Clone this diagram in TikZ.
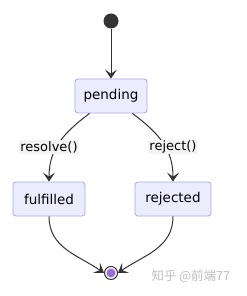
\documentclass[tikz,border=0pt]{standalone}
\usepackage{fontspec}
\setmainfont{DejaVu Sans}
\newfontfamily\cjk{Noto Sans CJK SC}
\usetikzlibrary{arrows.meta}
\definecolor{boxfill}{HTML}{ECECFF}
\definecolor{boxline}{HTML}{B0A6E6}
\definecolor{edge}{HTML}{333333}
\definecolor{endfill}{HTML}{9370DB}
\definecolor{lblbg}{HTML}{F3F3F3}
\begin{document}
\begin{tikzpicture}[x=1pt,y=-1pt,
  state/.style={draw=boxline,fill=boxfill,rounded corners=3pt,line width=0.8pt,
    minimum height=34pt,inner xsep=7pt,font=\fontsize{13.5}{15}\selectfont,text=black},
  trans/.style={draw=edge,line width=1pt,-{Stealth[length=9pt,width=12pt,inset=4pt]}},
  lbl/.style={fill=lblbg,inner sep=1pt,font=\fontsize{13}{15}\selectfont,text=black}]
\useasboundingbox (0,0) rectangle (246,296);
\fill[white] (0,0) rectangle (246,296);
\node[circle,fill=edge,minimum size=15pt,inner sep=0pt] (start) at (111,21) {};
\node[state,minimum width=72pt] (pending) at (111,96) {pending};
\node[state,minimum width=72pt] (fulfilled) at (49,199) {fulfilled};
\node[state,minimum width=76pt] (rejected) at (173,199) {rejected};
\node[circle,draw=edge,fill=white,line width=1pt,minimum size=13pt,inner sep=0pt] (end) at (111,273) {};
\fill[endfill] (end.center) circle (4.5pt);
\draw[trans] (start) -- (pending);
\draw[trans] ([xshift=15pt]pending.south west) .. controls (62,134) and (49,150) .. (fulfilled.north);
\draw[trans] ([xshift=-15pt]pending.south east) .. controls (160,134) and (173,150) .. (rejected.north);
\node[lbl] (lres) at (49,147) {resolve()};
\node[lbl] (lrej) at (173,147) {reject()};
\draw[trans] (fulfilled.south) .. controls (49,248) and (78,255) .. (end.west);
\draw[trans] (rejected.south) .. controls (173,248) and (144,255) .. (end.east);
\node[text=gray!50,font=\cjk\fontsize{12.5}{14}\selectfont,anchor=west] (wm) at (148,276) {知乎 @前端77};
\end{tikzpicture}
\end{document}
